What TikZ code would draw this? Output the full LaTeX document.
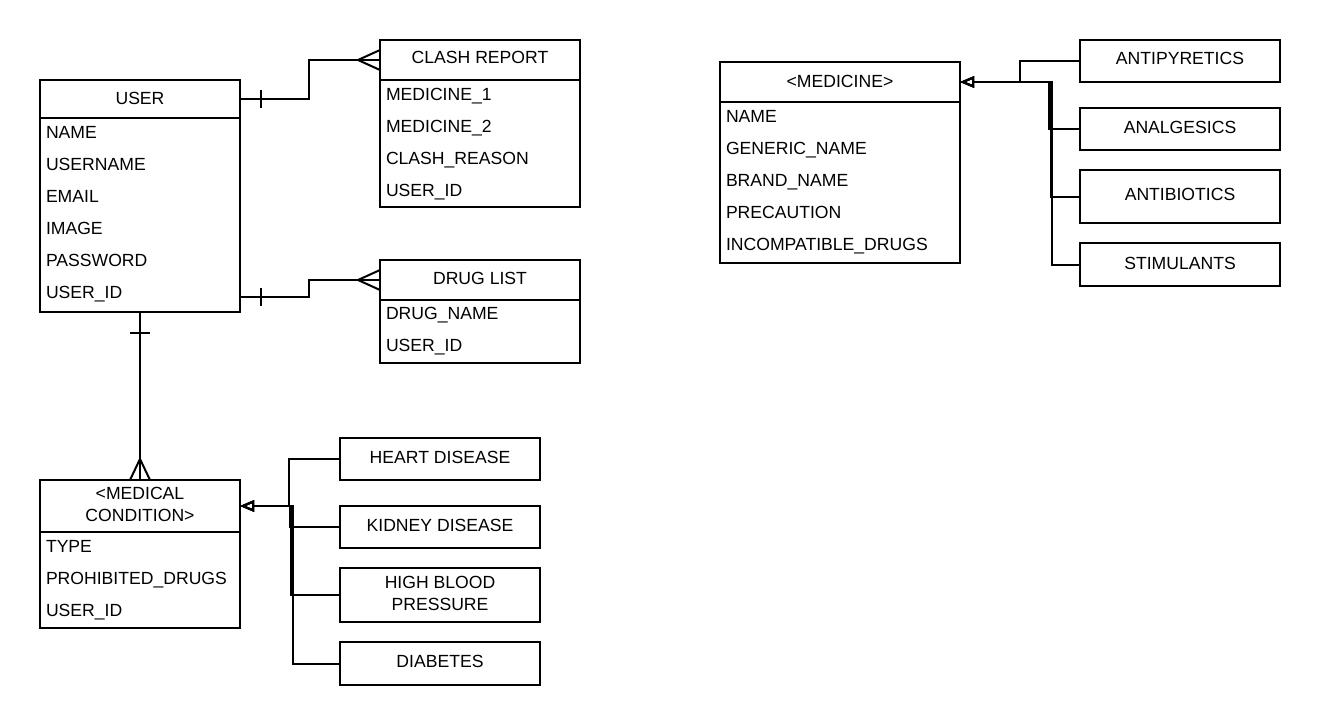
\documentclass[tikz,border=0pt]{standalone}
\usepackage{fontspec}
\setmainfont{Liberation Sans}
\usetikzlibrary{arrows.meta,calc}
\begin{document}
\begin{tikzpicture}[x=1pt,y=-1pt,line width=2pt,
  box/.style={draw,line width=2pt,anchor=north west,inner sep=0pt,outer sep=0pt,minimum width=200pt},
  t/.style={font=\fontsize{17.6}{22}\selectfont,inner sep=0pt,text height=12.6pt,text depth=0pt},
  tl/.style={t,anchor=west},
  tc/.style={t,anchor=center},
  tm/.style={font=\fontsize{17.6}{22}\selectfont,inner sep=0pt,align=center,anchor=center},
  conn/.style={line width=2pt},
  inh/.style={line width=2pt,-{Triangle[open,length=14pt,width=11pt]}}
]
\fill[white] (0,0) rectangle (1320,724);
\useasboundingbox (0,0) rectangle (1320,724);

% USER
\node[box,minimum height=38pt] (userH) at (40,80) {};
\node[box,minimum height=194pt] (user) at (40,118) {};
\node[tc] (userT) at (140,98) {USER};
\node[tl] (u1) at (45,132) {NAME};
\node[tl] (u2) at (45,164) {USERNAME};
\node[tl] (u3) at (45,196) {EMAIL};
\node[tl] (u4) at (45,228) {IMAGE};
\node[tl] (u5) at (45,260) {PASSWORD};
\node[tl] (u6) at (45,292) {USER\_ID};

% CLASH REPORT
\node[box,minimum height=40pt] (clashH) at (380,40) {};
\node[box,minimum height=127pt] (clash) at (380,80) {};
\node[tc] (clashT) at (480,57) {CLASH REPORT};
\node[tl] (c1) at (385,94) {MEDICINE\_1};
\node[tl] (c2) at (385,126) {MEDICINE\_2};
\node[tl] (c3) at (385,158) {CLASH\_REASON};
\node[tl] (c4) at (385,190) {USER\_ID};

% DRUG LIST
\node[box,minimum height=40pt] (drugH) at (380,260) {};
\node[box,minimum height=63pt] (drug) at (380,300) {};
\node[tc] (drugT) at (480,278) {DRUG LIST};
\node[tl] (d1) at (385,313) {DRUG\_NAME};
\node[tl] (d2) at (385,345) {USER\_ID};

% MEDICAL CONDITION
\node[box,minimum height=52pt] (medH) at (40,480) {};
\node[box,minimum height=96pt] (med) at (40,532) {};
\node[tm] (medT) at (140,504) {<MEDICAL\\CONDITION>};
\node[tl] (m1) at (45,546) {TYPE};
\node[tl] (m2) at (45,578) {PROHIBITED\_DRUGS};
\node[tl] (m3) at (45,610) {USER\_ID};

% MEDICINE
\node[box,minimum width=240pt,minimum height=40pt] (medicineH) at (720,62) {};
\node[box,minimum width=240pt,minimum height=161pt] (medicine) at (720,102) {};
\node[tc] (medicineT) at (840,81) {<MEDICINE>};
\node[tl] (n1) at (725,116) {NAME};
\node[tl] (n2) at (725,148) {GENERIC\_NAME};
\node[tl] (n3) at (725,180) {BRAND\_NAME};
\node[tl] (n4) at (725,212) {PRECAUTION};
\node[tl] (n5) at (725,244) {INCOMPATIBLE\_DRUGS};

% disease subclasses
\node[box,minimum height=42pt] (heart) at (340,438) {};
\node[tc] at (440,457) {HEART DISEASE};
\node[box,minimum height=42pt] (kidney) at (340,506) {};
\node[tc] at (440,525) {KIDNEY DISEASE};
\node[box,minimum height=54pt] (hbp) at (340,568) {};
\node[tm] at (440,593) {HIGH BLOOD\\PRESSURE};
\node[box,minimum height=43pt] (diab) at (340,642) {};
\node[tc] at (440,661) {DIABETES};

% medicine subclasses
\node[box,minimum height=42pt] (antip) at (1080,40) {};
\node[tc] at (1180,58) {ANTIPYRETICS};
\node[box,minimum height=42pt] (analg) at (1080,108) {};
\node[tc] at (1180,127) {ANALGESICS};
\node[box,minimum height=53pt] (antib) at (1080,170) {};
\node[tc] at (1180,194) {ANTIBIOTICS};
\node[box,minimum height=43pt] (stim) at (1080,243) {};
\node[tc] at (1180,263) {STIMULANTS};

% USER -> CLASH REPORT
\draw[conn] (userH.east) -- ++(69,0) |- (clashH.west);
\draw[conn] ($(userH.east)+(21,-9)$) -- ($(userH.east)+(21,9)$);
\draw[conn] ($(clashH.west)+(0,-10)$) -- ($(clashH.west)+(-22,0)$) -- ($(clashH.west)+(0,10)$);

% USER -> DRUG LIST
\draw[conn] ($(user.south east)+(0,-15)$) -- ++(69,0) |- (drugH.west);
\draw[conn] ($(user.south east)+(21,-24)$) -- ($(user.south east)+(21,-6)$);
\draw[conn] ($(drugH.west)+(0,-10)$) -- ($(drugH.west)+(-22,0)$) -- ($(drugH.west)+(0,10)$);

% USER -> MEDICAL CONDITION
\draw[conn] (user.south) -- (medH.north);
\draw[conn] ($(user.south)+(-10,21)$) -- ($(user.south)+(10,21)$);
\draw[conn] ($(medH.north)+(-10,0)$) -- ($(medH.north)+(0,-21)$) -- ($(medH.north)+(10,0)$);

% inheritance: diseases
\draw[inh] (heart.west) -- ++(-51,0) |- (medH.east);
\draw[inh] (kidney.west) -- ++(-50,0) |- (medH.east);
\draw[inh] (hbp.west) -- ++(-49,0) |- (medH.east);
\draw[inh] (diab.west) -- ++(-47,0) |- (medH.east);

% inheritance: medicines
\draw[inh] (antip.west) -- ++(-60,0) |- (medicineH.east);
\draw[inh] (analg.west) -- ++(-31,0) |- (medicineH.east);
\draw[inh] (antib.west) -- ++(-29,0) |- (medicineH.east);
\draw[inh] (stim.west) -- ++(-28,0) |- (medicineH.east);
\end{tikzpicture}
\end{document}
